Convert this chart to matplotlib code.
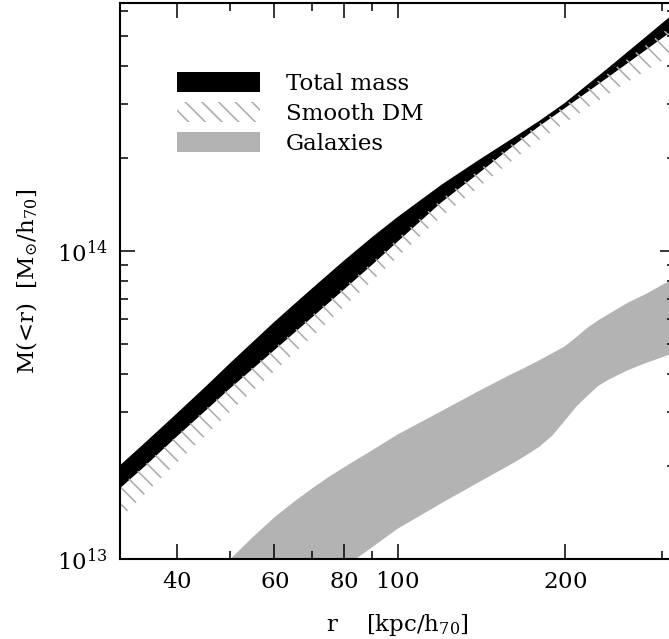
import matplotlib
matplotlib.use('Agg')
import matplotlib.pyplot as plt
from matplotlib.patches import Patch
from matplotlib.ticker import NullFormatter
import numpy as np

plt.rcParams['mathtext.fontset'] = 'dejavuserif'
plt.rcParams['font.family'] = 'serif'
plt.rcParams['font.serif'] = ['DejaVu Serif']
plt.rcParams['hatch.linewidth'] = 1.1

# radii in kpc/h70, masses given as log10(M / Msun h70^-1)
r_tot = [31, 35, 40, 45, 50, 60, 70, 80, 90, 100, 120, 140, 160, 180, 200, 240, 280, 320]
total_hi = [13.29, 13.376, 13.472, 13.558, 13.637, 13.77, 13.877, 13.968, 14.045, 14.11,
            14.215, 14.295, 14.362, 14.422, 14.48, 14.595, 14.695, 14.782]
total_lo = [13.216, 13.30, 13.397, 13.48, 13.555, 13.678, 13.783, 13.874, 13.955, 14.03,
            14.158, 14.252, 14.335, 14.405, 14.463, 14.565, 14.652, 14.728]
dm_hi = [13.22, 13.305, 13.40, 13.485, 13.56, 13.685, 13.79, 13.882, 13.963, 14.04,
         14.168, 14.262, 14.345, 14.413, 14.473, 14.578, 14.668, 14.746]
dm_lo = [13.116, 13.21, 13.312, 13.40, 13.48, 13.61, 13.72, 13.818, 13.903, 13.98,
         14.112, 14.207, 14.29, 14.36, 14.415, 14.51, 14.585, 14.65]

r_gal = [48, 50, 55, 60, 65, 70, 75, 80, 90, 100, 120, 140, 160, 170, 180, 190, 200,
         210, 220, 230, 240, 260, 280, 300, 320]
gal_hi = [12.97, 13.0, 13.073, 13.135, 13.185, 13.228, 13.265, 13.297, 13.353, 13.404,
          13.48, 13.545, 13.599, 13.622, 13.645, 13.668, 13.69, 13.72, 13.751, 13.775,
          13.795, 13.832, 13.86, 13.89, 13.915]
gal_lo = [12.70, 12.72, 12.77, 12.82, 12.86, 12.90, 12.937, 12.972, 13.038, 13.098,
          13.181, 13.249, 13.307, 13.335, 13.364, 13.40, 13.448, 13.495, 13.53, 13.562,
          13.582, 13.613, 13.636, 13.655, 13.674]

fs = 16.5
fig = plt.figure(figsize=(6.69, 6.39), dpi=100)
ax = fig.add_axes([120/669, 80/639, 555/669, 556/639])
ax.set_xscale('log')
ax.set_yscale('log')

p = lambda v: 10**np.array(v)
ax.fill_between(r_gal, p(gal_lo), p(gal_hi), facecolor='#b3b3b3', linewidth=0)
ax.fill_between(r_tot, p(total_lo), p(total_hi), facecolor='black', linewidth=0)
ax.fill_between(r_tot, p(dm_lo), p(dm_hi), facecolor='none', edgecolor='#aaaaaa',
                hatch='\\\\', linewidth=0)

ax.set_xlim(10**1.5, 10**2.5)
ax.set_ylim(1e13, 10**14.805)

ax.set_xticks([40, 60, 80, 100, 200], labels=[r'$40$', r'$60$', r'$80$', r'$100$', r'$200$'])
ax.set_xticks([50, 70, 90, 300], minor=True)
ax.xaxis.set_minor_formatter(NullFormatter())
ax.set_yticks([1e13, 1e14], labels=[r'$10^{13}$', r'$10^{14}$'])
ax.set_yticks([k*1e13 for k in range(2, 10)] + [k*1e14 for k in range(2, 7)], minor=True)
ax.yaxis.set_minor_formatter(NullFormatter())

ax.tick_params(which='both', direction='in', top=True, right=True, labelsize=fs, width=1.1)
ax.tick_params(axis='x', which='major', length=11, pad=9)
ax.tick_params(axis='y', which='major', length=11, pad=9)
ax.tick_params(which='minor', length=5.5)
for s in ax.spines.values():
    s.set_linewidth(1.5)

ax.set_xlabel(r'r    [kpc/h$_{70}$]', fontsize=fs, labelpad=13)
ax.set_ylabel(r'M(<r)  [M$_{\odot}$/h$_{70}$]', fontsize=fs, labelpad=12)

handles = [Patch(facecolor='black', linewidth=0),
           Patch(facecolor='white', edgecolor='#aaaaaa', hatch='\\\\', linewidth=0),
           Patch(facecolor='#b3b3b3', linewidth=0)]
labels = ['Total mass', 'Smooth DM', 'Galaxies']
ax.legend(handles, labels, loc='upper left', bbox_to_anchor=(0.103, 0.876), frameon=False,
          fontsize=fs, borderpad=0, borderaxespad=0, handlelength=3.6, handleheight=1.0,
          labelspacing=0.3, handletextpad=1.15)

plt.savefig('out.png', dpi=100)
